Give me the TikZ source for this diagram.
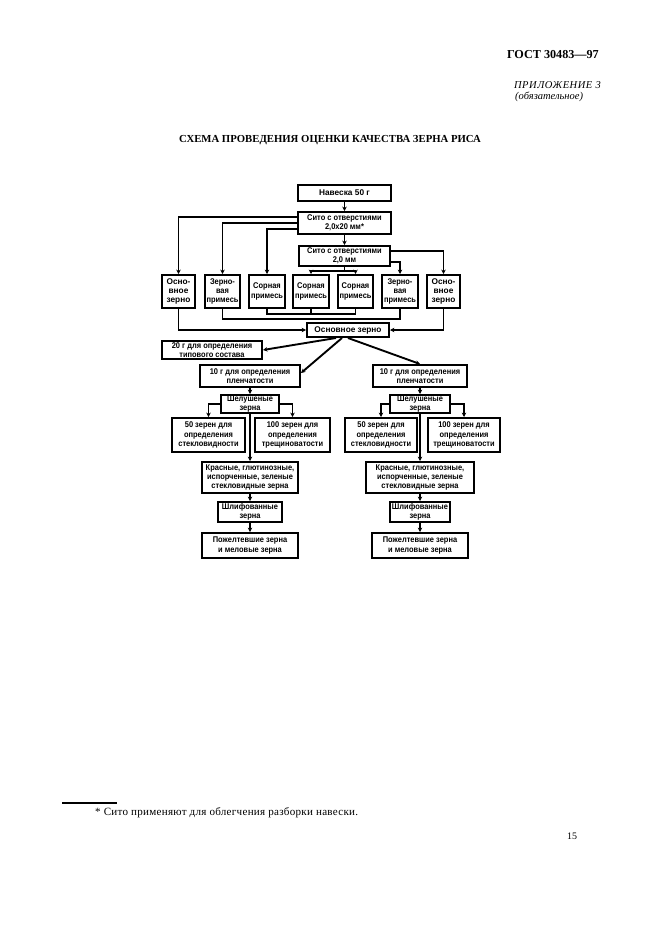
\documentclass[tikz,border=0pt]{standalone}
\usepackage{fontspec}
\setmainfont{Liberation Serif}
\setsansfont{Liberation Sans}
\usetikzlibrary{arrows.meta,calc}

\begin{document}
\begin{tikzpicture}[x=0.3177mm,y=-0.3177mm,line join=miter,
  box/.style={draw,line width=1.8pt,inner sep=0pt,align=center,
    font=\sffamily\bfseries\fontsize{7.5}{8.4}\selectfont},
  narrow/.style={font=\sffamily\bfseries\fontsize{7.5}{8.4}\selectfont\addfontfeatures{FakeStretch=0.9}},
  sz/.style 2 args={minimum width=#1*0.3177mm,minimum height=#2*0.3177mm},
  arr/.style={-{Stealth[length=4pt,width=4pt]},line width=1.7pt},
  ln/.style={line width=1.7pt},
  txt/.style={inner sep=0pt}]
  \fill[white] (0,0) rectangle (661,936);
  \useasboundingbox (0,0) rectangle (661,936);

  \node[txt,anchor=east,font=\bfseries\fontsize{11}{13}\selectfont] (gost) at (599,55) {ГОСТ 30483—97};
  \node[txt,anchor=east,font=\itshape\fontsize{9.5}{11}\selectfont\addfontfeatures{LetterSpace=5}] (app) at (601,85) {ПРИЛОЖЕНИЕ 3};
  \node[txt,anchor=west,font=\itshape\fontsize{9.5}{11}\selectfont] (oblig) at (515,97) {(обязательное)};
  \node[txt,font=\bfseries\fontsize{9.7}{11}\selectfont] (title) at (330,140) {СХЕМА ПРОВЕДЕНИЯ ОЦЕНКИ КАЧЕСТВА ЗЕРНА РИСА};

  \node[box,sz={93}{16}] (nav) at (344.5,193) {Навеска 50 г};
  \node[box,narrow,sz={93}{22}] (s1) at (344.5,223) {Сито с отверстиями\\2,0х20 мм*};
  \node[box,narrow,sz={91}{20}] (s2) at (344.5,256) {Сито с отверстиями\\2,0 мм};

  \node[box,sz={33}{33}] (b1) at (178.5,291.5) {Осно-\\вное\\зерно};
  \node[box,narrow,sz={35}{33}] (b2) at (222.5,291.5) {Зерно-\\вая\\примесь};
  \node[box,narrow,sz={36}{33}] (b3) at (267,291.5) {Сорная\\примесь};
  \node[box,narrow,sz={36}{33}] (b4) at (311,291.5) {Сорная\\примесь};
  \node[box,narrow,sz={35}{33}] (b5) at (355.5,291.5) {Сорная\\примесь};
  \node[box,narrow,sz={36}{33}] (b6) at (400,291.5) {Зерно-\\вая\\примесь};
  \node[box,sz={33}{33}] (b7) at (443.5,291.5) {Осно-\\вное\\зерно};

  \node[box,sz={82}{14}] (main) at (348,330) {Основное зерно};
  \node[box,narrow,sz={100}{18}] (g20) at (212,350) {20 г для определения\\типового состава};

  \node[box,narrow,sz={100}{22}] (l10) at (250,376) {10 г для определения\\пленчатости};
  \node[box,narrow,sz={58}{18}] (lhus) at (250,404) {Шелушеные\\зерна};
  \node[box,narrow,sz={73}{34}] (l50) at (208.5,435) {50 зерен для\\определения\\стекловидности};
  \node[box,narrow,sz={75}{34}] (l100) at (292.5,435) {100 зерен для\\определения\\трещиноватости};
  \node[box,narrow,sz={96}{31}] (lred) at (250,477.5) {Красные, глютинозные,\\испорченные, зеленые\\стекловидные зерна};
  \node[box,narrow,sz={64}{20}] (lpol) at (250,512) {Шлифованные\\зерна};
  \node[box,narrow,sz={96}{25}] (lyel) at (250,545.5) {Пожелтевшие зерна\\и меловые зерна};

  \node[box,narrow,sz={94}{22}] (r10) at (420,376) {10 г для определения\\пленчатости};
  \node[box,narrow,sz={60}{18}] (rhus) at (420,404) {Шелушеные\\зерна};
  \node[box,narrow,sz={72}{34}] (r50) at (381,435) {50 зерен для\\определения\\стекловидности};
  \node[box,narrow,sz={72}{34}] (r100) at (464,435) {100 зерен для\\определения\\трещиноватости};
  \node[box,narrow,sz={108}{31}] (rred) at (420,477.5) {Красные, глютинозные,\\испорченные, зеленые\\стекловидные зерна};
  \node[box,narrow,sz={60}{20}] (rpol) at (420,512) {Шлифованные\\зерна};
  \node[box,narrow,sz={96}{25}] (ryel) at (420,545.5) {Пожелтевшие зерна\\и меловые зерна};

  % sieves
  \draw[arr] (nav) -- (s1);
  \draw[arr] (s1) -- (s2);
  \draw[arr] ($(s1.west)+(0,-6)$) -| (b1);
  \draw[arr] (s1.west) -| (b2);
  \draw[arr] ($(s1.west)+(0,6)$) -| (b3);
  \draw[arr] ($(s2.east)+(0,-5)$) -| (b7);
  \draw[arr] ($(s2.east)+(0,6)$) -| (b6);
  \draw[ln] (s2.south) -- ++(0,4) coordinate (fork);
  \draw[arr] (fork) -| (b4);
  \draw[arr] (fork) -| (b5);

  % fractions
  \draw[arr] (b1) |- (main);
  \draw[arr] (b7) |- (main);
  \draw[ln] (b2.south) -- ++(0,10) -| (b6.south);
  \draw[ln] (b3.south) -- ++(0,5) -| (b5.south);
  \draw[ln] (b4.south) -- ++(0,5);

  \draw[arr] ($(main.south)+(-12,0)$) -- (g20.east);
  \draw[arr] ($(main.south)+(-6,0)$) -- ($(l10.east)+(0,-3)$);
  \draw[arr] (main.south) -- (r10.north);

  \foreach \s in {l,r}{
    \draw[arr] (\s10) -- (\s hus);
    \draw[arr] (\s hus) -| (\s50);
    \draw[arr] (\s hus) -| (\s100);
    \draw[arr] (\s hus) -- (\s red);
    \draw[arr] (\s red) -- (\s pol);
    \draw[arr] (\s pol) -- (\s yel);
  }

  \draw[line width=1.2pt] (62,803) -- (117,803);
  \node[txt,anchor=west,font=\fontsize{10}{11}\selectfont\addfontfeatures{LetterSpace=2.5}] (note) at (95,813) {* Сито применяют для облегчения разборки навески.};
  \node[txt,font=\fontsize{9}{11}\selectfont] (page) at (572,836) {15};
\end{tikzpicture}
\end{document}
